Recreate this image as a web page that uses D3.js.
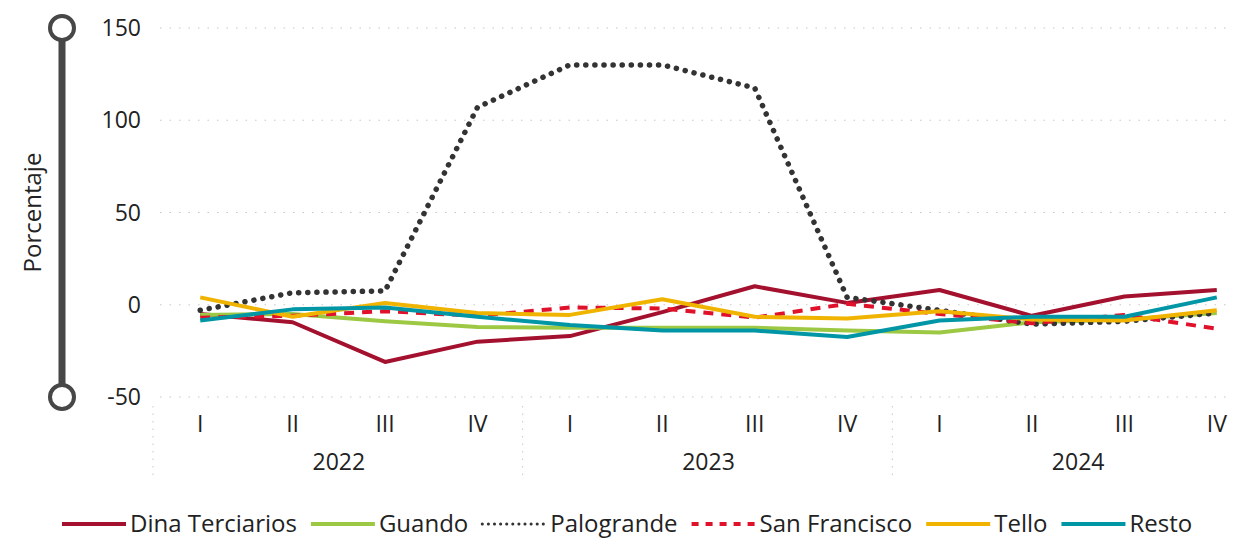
<!DOCTYPE html>
<html>
<head>
<meta charset="utf-8">
<script src="https://cdn.jsdelivr.net/npm/d3@7"></script>
<style>
  body { margin: 0; background: #fff; }
  text { font-family: "Open Sans", "Noto Sans", sans-serif; fill: #222; }
</style>
</head>
<body>
<div id="chart"></div>
<script>
// data
var years = ["2022", "2023", "2024"];
var quarters = ["I", "II", "III", "IV"];
var yTicks = [-50, 0, 50, 100, 150];

var dina       = [-5, -9.5, -31, -20, -17, -4, 10, 1, 8, -6, 4.5, 8];
var guando     = [-5.5, -5, -9, -12, -12.5, -12.5, -12.5, -14, -15, -9.5, -8, -4.5];
var palogrande = [-3, 6.5, 7.5, 107, 130, 130, 117.5, 4, -3, -10.5, -9, -4.5];
var sanFran    = [-7, -6, -3.5, -6, -1.5, -2, -7, 0.5, -5, -10, -5.5, -13];
var tello      = [4, -6.5, 1, -4.5, -5.5, 3, -6.5, -7.5, -3.5, -8, -8.5, -3];
var resto      = [-8.5, -2.5, -1.5, -6.5, -11, -14, -14, -17.5, -8.5, -6.5, -6.5, 4];

var series = [
  {name: "Dina Terciarios", values: dina,       color: "#A3112E", dash: null},
  {name: "Guando",          values: guando,     color: "#9DC843", dash: null},
  {name: "Palogrande",      values: palogrande, color: "#333333", dash: "0.1 9", cap: "round"},
  {name: "San Francisco",   values: sanFran,    color: "#E0112B", dash: "10 8"},
  {name: "Tello",           values: tello,      color: "#F0B400", dash: null},
  {name: "Resto",           values: resto,      color: "#0096A6", dash: null}
];

var W = 1250, H = 540;
var plotLeft = 154, plotRight = 1263, plotTop = 28, plotBottom = 397;

var svg = d3.select("#chart").append("svg")
  .attr("width", W).attr("height", H);

// one slot per quarter
var keys = [];
years.forEach(function(yr) { quarters.forEach(function(q) { keys.push(yr + "-" + q); }); });

var x = d3.scaleBand().domain(keys).range([plotLeft, plotRight]);
var y = d3.scaleLinear().domain([-50, 150]).range([plotBottom, plotTop]);

// gridlines
svg.append("g").selectAll("line")
  .data(yTicks).join("line")
  .attr("x1", 160).attr("x2", 1232)
  .attr("y1", function(d) { return y(d); })
  .attr("y2", function(d) { return y(d); })
  .attr("stroke", "#c8c8c8")
  .attr("stroke-width", 1.2)
  .attr("stroke-dasharray", "1.5 8");

// y tick labels
svg.append("g").selectAll("text")
  .data(yTicks).join("text")
  .attr("x", 141).attr("y", function(d) { return y(d); })
  .attr("dy", "0.35em")
  .attr("text-anchor", "end")
  .style("font-size", "23px")
  .text(function(d) { return d; });

// left axis bar with round ends
svg.append("line")
  .attr("x1", 62).attr("x2", 62)
  .attr("y1", y(150)).attr("y2", y(-50))
  .attr("stroke", "#474747").attr("stroke-width", 7);
svg.append("g").selectAll("circle")
  .data([150, -50]).join("circle")
  .attr("cx", 62).attr("cy", function(d) { return y(d); })
  .attr("r", 12)
  .attr("fill", "#fff").attr("stroke", "#474747").attr("stroke-width", 4);

svg.append("text")
  .attr("transform", "translate(41," + y(50) + ") rotate(-90)")
  .attr("text-anchor", "middle")
  .style("font-size", "24px")
  .text("Porcentaje");

// x axis: quarters + years, with dotted separators
svg.append("g").selectAll("text")
  .data(keys).join("text")
  .attr("x", function(d) { return x(d) + x.bandwidth() / 2; })
  .attr("y", 432)
  .attr("text-anchor", "middle")
  .style("font-size", "23px")
  .text(function(d) { return d.split("-")[1]; });

var step = x.step();
svg.append("g").selectAll("text")
  .data(years).join("text")
  .attr("x", function(d) { return x(d + "-I") + step * 2; })
  .attr("y", 470)
  .attr("text-anchor", "middle")
  .style("font-size", "23px")
  .text(function(d) { return d; });

svg.append("g").selectAll("line")
  .data(years).join("line")
  .attr("x1", function(d) { return x(d + "-I") - 1; })
  .attr("x2", function(d) { return x(d + "-I") - 1; })
  .attr("y1", 406).attr("y2", 478)
  .attr("stroke", "#c8c8c8")
  .attr("stroke-dasharray", "1.5 6");

// lines
var line = d3.line()
  .x(function(d, i) { return x(keys[i]) + x.bandwidth() / 2; })
  .y(function(d) { return y(d); });

svg.append("g").selectAll("path")
  .data(series).join("path")
  .attr("d", function(s) { return line(s.values); })
  .attr("fill", "none")
  .attr("stroke", function(s) { return s.color; })
  .attr("stroke-width", function(s) { return s.cap ? 5.5 : 4; })
  .attr("stroke-linecap", function(s) { return s.cap || "butt"; })
  .attr("stroke-linejoin", "round")
  .attr("stroke-dasharray", function(s) { return s.dash; });

// legend
var lg = svg.append("g");
var lx = 62, ly = 524;
series.forEach(function(s) {
  lg.append("line")
    .attr("x1", lx).attr("x2", lx + 64)
    .attr("y1", ly).attr("y2", ly)
    .attr("stroke", s.color)
    .attr("stroke-width", s.cap ? 3 : 4)
    .attr("stroke-linecap", s.cap || "butt")
    .attr("stroke-dasharray", s.cap ? "0.1 6" : (s.dash ? "7 7" : null));
  var t = lg.append("text")
    .attr("x", lx + 68).attr("y", ly)
    .attr("dy", "0.35em")
    .style("font-size", "24px")
    .text(s.name);
  lx += 68 + t.node().getComputedTextLength() + 14;
});
</script>
</body>
</html>
